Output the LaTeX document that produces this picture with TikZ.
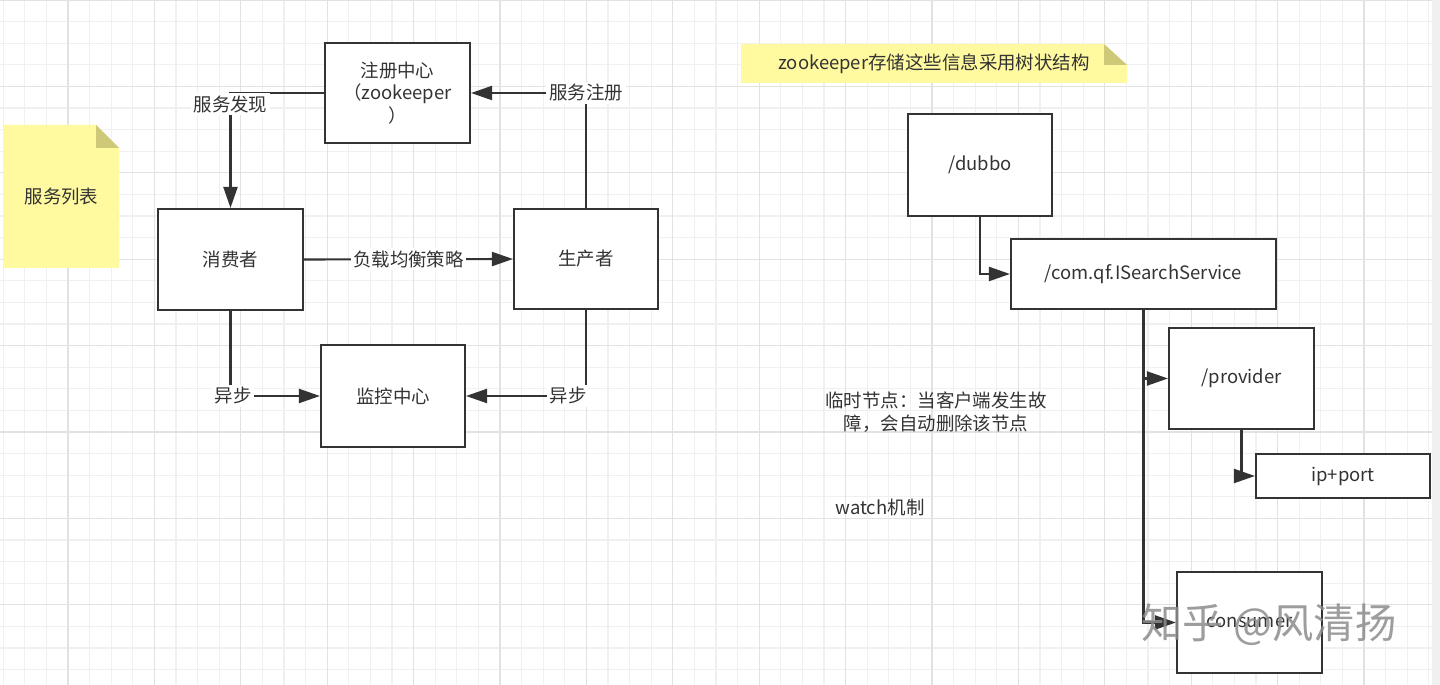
\documentclass[tikz,border=0pt]{standalone}
\usepackage{fontspec}
\setmainfont{Noto Sans CJK SC}
\usepackage{xcolor}
\usepackage{tikz}
\usetikzlibrary{arrows.meta}
\definecolor{ink}{HTML}{333333}
\definecolor{gridmin}{HTML}{F0F0F0}
\definecolor{gridmaj}{HTML}{E2E2E2}
\definecolor{notefill}{RGB}{255, 250, 160}
\definecolor{notefold}{RGB}{206, 201, 120}
\definecolor{wmgray}{HTML}{8C8C8C}

\tikzset{
    box/.style 2 args={draw=ink, line width=1.2pt, fill=white, text=ink,
        minimum width=#1*0.02cm, minimum height=#2*0.02cm, inner sep=0pt,
        align=center, font=\fontsize{10.5}{12.8}\selectfont},
    link/.style={draw=ink, line width=1.2pt, -{Triangle[length=0.42cm, width=0.28cm]}},
    lbl/.style={fill=white, inner sep=1.5pt, text=ink, font=\fontsize{10.5}{12.8}\selectfont},
    plain/.style={inner sep=0pt, text=ink, align=center, font=\fontsize{10.5}{12.8}\selectfont},
    gridline/.style={draw=gridmin, line width=0.6pt},
    gridbold/.style={draw=gridmaj, line width=0.6pt},
}

\begin{document}
\begin{tikzpicture}[x=0.02cm, y=-0.02cm]
    \useasboundingbox (0,0) rectangle (1440,685);
    \fill[white] (0,0) rectangle (1440,685);
    %% background grid
    \foreach \i in {0,...,66} \draw[gridline] ({3.2+21.6*\i},0) -- ++(0,685);
    \foreach \i in {0,...,31} \draw[gridline] (0,{21.6*\i}) -- ++(1432,0);
    \foreach \i in {0,...,15} \draw[gridbold] ({68+86.4*\i},0) -- ++(0,685);
    \foreach \i in {0,...,7} \draw[gridbold] (0,{86.4*\i}) -- ++(1432,0);
    \fill[gridmin] (1432,0) rectangle (1440,685);

    %% sticky notes
    \fill[notefill] (4,125) -- (96,125) -- (119,148) -- (119,268) -- (4,268) -- cycle;
    \fill[notefold] (96,125) -- (96,148) -- (119,148) -- cycle;
    \node[plain] (svclist) at (61.5,196.5) {服务列表};
    \fill[notefill] (741,44) -- (1104,44) -- (1127,65) -- (1127,83) -- (741,83) -- cycle;
    \fill[notefold] (1104,44) -- (1104,65) -- (1127,65) -- cycle;
    \node[plain] (treenote) at (934,64) {zookeeper存储这些信息采用树状结构};

    %% left: dubbo roles
    \node[box={145}{100}] (reg)  at (397.5,93)  {注册中心\\（zookeeper\\）};
    \node[box={145}{101}] (cons) at (230.5,259.5) {消费者};
    \node[box={144}{100}] (prod) at (586,259)   {生产者};
    \node[box={144}{102}] (mon)  at (393,396)   {监控中心};
    \draw[link] (reg.west) -| node[lbl, yshift=-0.22cm] {服务发现} (cons.north);
    \draw[link] (prod.north) |- node[lbl] {服务注册} (reg.east);
    \draw[link] (cons.east) -- node[lbl] {负载均衡策略} (prod.west);
    \draw[link] (cons.south) |- node[lbl, xshift=0.05cm] {异步} (mon.west);
    \draw[link] (prod.south) |- node[lbl, xshift=-0.36cm] {异步} (mon.east);

    %% right: zookeeper tree
    \node[box={144}{102}] (dubbo)   at (980,165)    {/dubbo};
    \node[box={265}{70}]  (isearch) at (1143.5,274) {/com.qf.ISearchService};
    \node[box={145}{101}] (prov)    at (1241.5,378.5) {/provider};
    \node[box={174}{44}]  (ipport)  at (1343,476)   {ip+port};
    \node[box={145}{101}] (consm)   at (1249.5,622.5) {consumer};
    \draw[link] (dubbo.south) |- (isearch.west);
    \draw[link] (isearch.south) |- (prov.west);
    \draw[link] (prov.south) |- (ipport.west);
    \draw[link] (isearch.south) |- (consm.west);

    %% remarks
    \node[plain] (tmpnode) at (936,412) {临时节点：当客户端发生故\\障，会自动删除该节点};
    \node[plain] (watch)   at (880,507) {watch机制};

    %% watermark
    \node[text=wmgray, opacity=0.85, inner sep=0pt, font=\fontsize{23.5}{24}\selectfont] (wmark) at (1269,625) {知乎 @风清扬};
\end{tikzpicture}
\end{document}
